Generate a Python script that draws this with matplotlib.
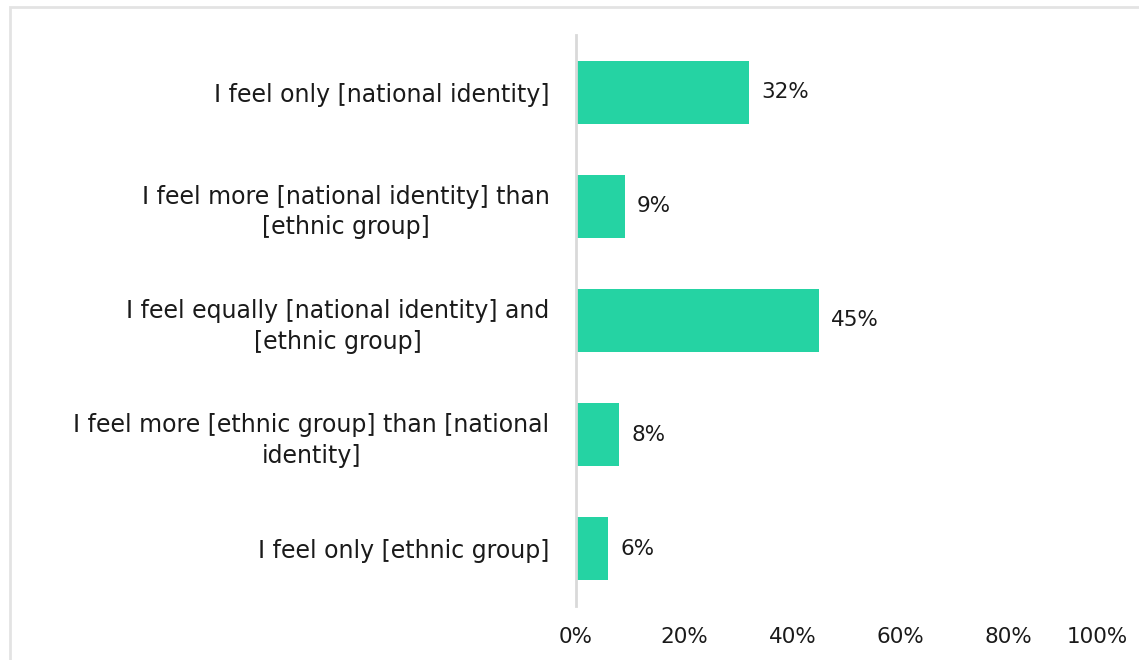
import matplotlib.pyplot as plt
from matplotlib.patches import Rectangle
from matplotlib.ticker import FuncFormatter
from matplotlib.transforms import ScaledTranslation

# ── Dados ────────────────────────────────────────────────────────────────────
categories = [
    "I feel only [national identity]",
    "I feel more [national identity] than\n[ethnic group]",
    "I feel equally [national identity] and\n[ethnic group]",
    "I feel more [ethnic group] than [national\nidentity]",
    "I feel only [ethnic group]",
]
values = [32, 9, 45, 8, 6]
x_ticks = [0, 20, 40, 60, 80, 100]

BAR = "#25D3A3"
AXIS = "#D9D9D9"
TEXT = "#1a1a1a"

plt.rcParams["font.family"] = ["DejaVu Sans"]

W, H = 1139, 660
fig = plt.figure(figsize=(W / 100, H / 100), dpi=100)
ax = fig.add_axes([576 / W, 1 - 606 / H, (1117 - 576) / W, (606 - 35) / H])

# moldura cinza clara
fig.patches.append(Rectangle((10 / W, -0.1), 1.2, 1 - 7 / H + 0.1,
                             transform=fig.transFigure, fill=False,
                             edgecolor="#E3E3E3", linewidth=2))

pos = list(range(len(categories)))
ax.barh(pos, values, height=0.55, color=BAR)
for p, v in zip(pos, values):
    ax.text(v + 2.2, p, f"{v}%", va="center", ha="left", fontsize=15.5, color=TEXT)

ax.set_ylim(len(categories) - 0.5, -0.5)
ax.set_xlim(0, 100)
ax.set_yticks(pos)
ax.set_yticklabels(categories, fontsize=17, color=TEXT, multialignment="center",
                   linespacing=1.35)
ax.set_xticks(x_ticks)
ax.xaxis.set_major_formatter(FuncFormatter(lambda v, _: f"{v:.0f}%"))
ax.tick_params(axis="x", labelsize=15.5, labelcolor=TEXT, length=0, pad=15)
ax.tick_params(axis="y", length=0, pad=19)

# o último rótulo fica dentro da moldura, como no original
last = ax.get_xticklabels()[-1]
last.set_transform(last.get_transform() + ScaledTranslation(-14 / 72, 0, fig.dpi_scale_trans))

for s in ["top", "right", "bottom"]:
    ax.spines[s].set_visible(False)
ax.spines["left"].set_color(AXIS)
ax.spines["left"].set_linewidth(2)

fig.savefig("out.png", dpi=100, facecolor="white")
